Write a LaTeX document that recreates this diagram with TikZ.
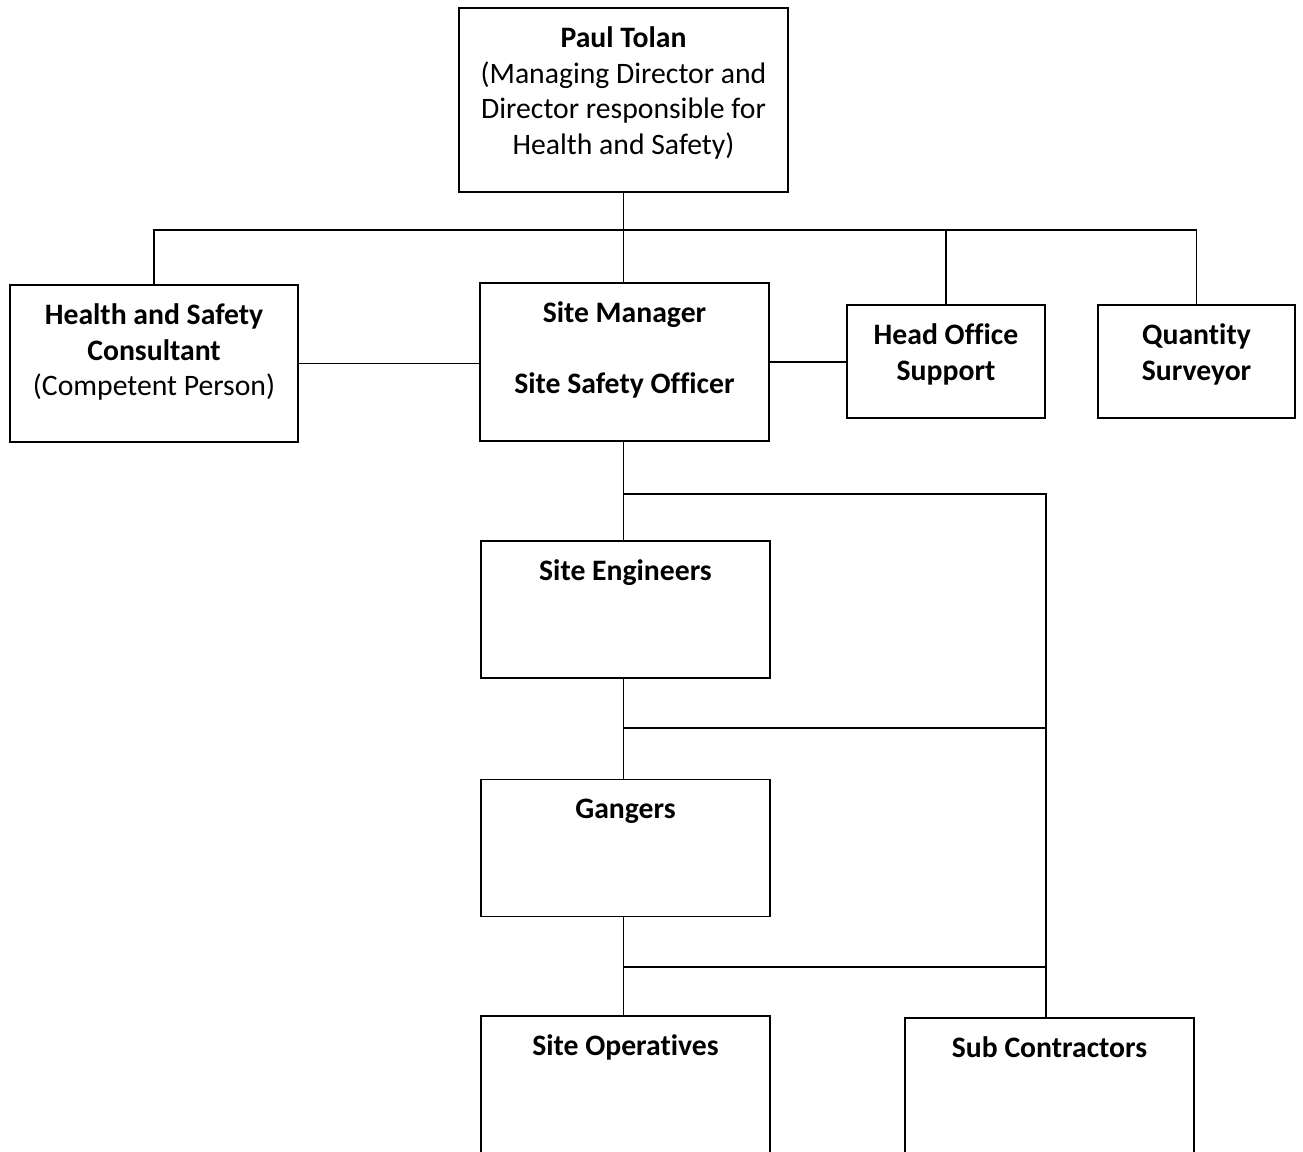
\documentclass[tikz,border=0pt]{standalone}
\usepackage{fontspec}
\setmainfont{Carlito}[Ligatures=NoCommon]
\usetikzlibrary{positioning, calc}

\tikzset{
  box/.style={draw, line width=1.1pt, minimum width=5.78cm, minimum height=2.74cm, inner sep=0pt},
  txt/.style={anchor=north, yshift=-8.6pt, align=center, inner sep=0pt, font=\fontsize{16.9}{20.3}\selectfont},
  btxt/.style={txt, font=\fontsize{16.9}{20.3}\selectfont\bfseries},
  link/.style={line width=1.1pt}
}

\begin{document}
\begin{tikzpicture}
\useasboundingbox (0,0) rectangle (26.06,23.04);
% Boxes
\node (paul) [box, minimum width=6.58cm, minimum height=3.68cm] at (12.47,21.04)
  [label={[txt]north:{\strut\textbf{Paul Tolan}\\(Managing Director and\\Director responsible for\\Health and Safety)}}] {};
\node (hsc) [box, minimum width=5.76cm, minimum height=3.14cm] at (3.08,15.77)
  [label={[txt]north:{\strut\textbf{Health and Safety}\\\textbf{Consultant}\\(Competent Person)}}] {};
\node (sm) [box, minimum height=3.16cm] at (12.49,15.80)
  [label={[btxt]north:{\strut Site Manager\\[20.3pt]Site Safety Officer}}] {};
\node (hos) [box, minimum width=3.96cm, minimum height=2.26cm] at (18.92,15.81)
  [label={[btxt]north:{\strut Head Office\\Support}}] {};
\node (qs) [box, minimum width=3.94cm, minimum height=2.26cm] at (23.93,15.81)
  [label={[btxt]north:{\strut Quantity\\Surveyor}}] {};
\node (se) [box] at (12.51,10.85)
  [label={[btxt]north:{\strut Site Engineers}}] {};
\node (gang) [box] at (12.51,6.08)
  [label={[btxt]north:{\strut Gangers}}] {};
\node (ops) [box] at (12.51,1.35)
  [label={[btxt]north:{\strut Site Operatives}}] {};
\node (subc) [box] at (20.99,1.31)
  [label={[btxt]north:{\strut Sub Contractors}}] {};

% Junctions
\coordinate (bus) at (12.47,18.44);
\coordinate (j1) at (12.47,13.16);
\coordinate (j2) at (12.47,8.48);
\coordinate (j3) at (12.47,3.70);

% Edges
\draw [link] (paul.south) -- (paul.south |- sm.north);
\draw [link] (hsc.north) -- (hsc.north |- bus) -- (qs.north |- bus) -- (qs.north);
\draw [link] (hos.north) -- (hos.north |- bus);
\draw [link] (hsc.east) -- (hsc.east -| sm.west);
\draw [link] (sm.east) -- (sm.east -| hos.west);
\draw [link] (j1 |- sm.south) -- (j1 |- se.north);
\draw [link] (j1 |- se.south) -- (j1 |- gang.north);
\draw [link] (j1 |- gang.south) -- (j1 |- ops.north);
\draw [link] (j1) -- (j1 -| 20.92,0) -- (20.92,0 |- subc.north);
\draw [link] (j2) -- (j2 -| 20.92,0);
\draw [link] (j3) -- (j3 -| 20.92,0);
\end{tikzpicture}
\end{document}
